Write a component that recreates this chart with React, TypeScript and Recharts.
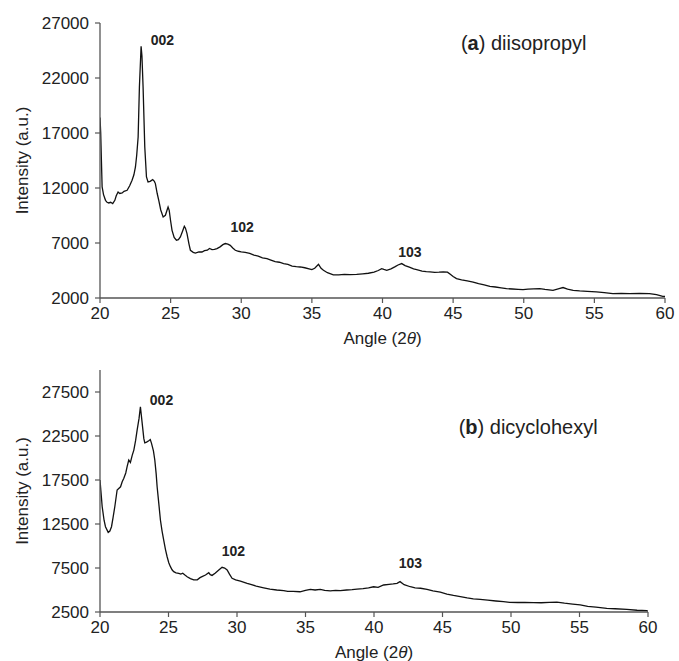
import React from 'react';
import { LineChart, Line, XAxis, YAxis, ReferenceDot } from 'recharts';

const anglesA = [
  20.0, 20.05, 20.1, 20.15, 20.25, 20.39, 20.5, 20.62, 20.75, 20.9, 21.05, 21.15, 21.28, 21.4, 21.57, 21.7, 21.92,
  22.1, 22.27, 22.4, 22.51, 22.6, 22.7, 22.79, 22.91, 22.97, 23.05, 23.17, 23.29, 23.4, 23.55, 23.73, 23.85, 23.92,
  24.05, 24.16, 24.3, 24.47, 24.63, 24.75, 24.82, 24.9, 25.0, 25.1, 25.25, 25.41, 25.55, 25.69, 25.85, 25.97, 26.05,
  26.16, 26.3, 26.4, 26.6, 26.75, 27.0, 27.22, 27.4, 27.6, 27.75, 27.93, 28.1, 28.28, 28.5, 28.7, 28.87, 29.05, 29.22,
  29.4, 29.58, 29.8, 30.0, 30.28, 30.6, 30.9, 31.2, 31.5, 31.82, 32.1, 32.4, 32.7, 33.0, 33.3, 33.6, 33.9, 34.17, 34.5,
  34.8, 35.0, 35.2, 35.47, 35.65, 35.82, 36.1, 36.52, 36.9, 37.3, 37.7, 38.17, 38.6, 39.0, 39.4, 39.7, 39.94, 40.1,
  40.3, 40.6, 40.9, 41.1, 41.36, 41.6, 41.9, 42.2, 42.42, 42.8, 43.1, 43.36, 43.7, 44.0, 44.3, 44.6, 44.8, 45.0, 45.24,
  45.6, 46.0, 46.42, 46.8, 47.2, 47.6, 48.0, 48.4, 48.78, 49.2, 49.6, 49.95, 50.3, 50.7, 51.13, 51.5, 52.07, 52.5,
  52.78, 53.1, 53.5, 53.96, 54.5, 55.14, 55.7, 56.31, 56.9, 57.49, 58.2, 58.9, 59.4, 59.84, 60.0,
];
const intensityA = [
  18400, 17000, 14500, 12100, 11400, 10880, 10700, 10640, 10700, 10580, 10880, 11300, 11640, 11500, 11550, 11700, 11790,
  12200, 12700, 13200, 13910, 15000, 16640, 21180, 24880, 24000, 21180, 15730, 13000, 12540, 12600, 12760, 12600, 12400,
  11500, 10880, 10000, 9360, 9520, 10000, 10270, 9970, 9000, 8150, 7500, 7250, 7300, 7550, 8100, 8520, 8350,
  7850, 6900, 6340, 6150, 6090, 6200, 6180, 6300, 6350, 6500, 6400, 6420, 6490, 6650, 6850, 6950, 6900, 6790,
  6550, 6340, 6250, 6200, 6150, 6050, 5900, 5800, 5650, 5580, 5450, 5300, 5250, 5130, 5050, 4900, 4850, 4820, 4750,
  4650, 4580, 4700, 5060, 4700, 4520, 4300, 4100, 4100, 4150, 4120, 4150, 4200, 4250, 4350, 4500, 4670, 4600,
  4520, 4650, 4850, 5000, 5130, 4950, 4800, 4650, 4580, 4450, 4400, 4370, 4330, 4350, 4380, 4350, 4150, 3950, 3760,
  3650, 3550, 3450, 3300, 3200, 3060, 3000, 2920, 2850, 2820, 2790, 2760, 2800, 2830, 2850, 2780, 2700, 2850,
  2950, 2800, 2700, 2640, 2600, 2550, 2480, 2400, 2420, 2400, 2420, 2400, 2300, 2150, 2150,
];

const anglesB = [
  20.0, 20.16, 20.3, 20.4, 20.6, 20.72, 20.84, 20.95, 21.08, 21.25, 21.5, 21.62, 21.74, 21.88, 21.98, 22.1, 22.22,
  22.35, 22.47, 22.6, 22.71, 22.85, 22.95, 23.08, 23.2, 23.27, 23.4, 23.56, 23.67, 23.76, 23.9, 24.0, 24.1, 24.17,
  24.3, 24.41, 24.53, 24.65, 24.78, 24.9, 25.02, 25.14, 25.26, 25.38, 25.55, 25.75, 25.9, 26.04, 26.2, 26.36, 26.6,
  26.84, 27.1, 27.3, 27.45, 27.7, 27.94, 28.05, 28.18, 28.4, 28.65, 28.91, 29.1, 29.28, 29.45, 29.64, 29.9, 30.25,
  30.74, 31.0, 31.4, 31.95, 32.4, 32.9, 33.41, 33.7, 34.1, 34.6, 35.0, 35.35, 35.7, 36.08, 36.4, 36.81, 37.2, 37.54,
  38.0, 38.4, 38.76, 39.2, 39.6, 39.97, 40.3, 40.7, 41.1, 41.4, 41.68, 41.9, 42.2, 42.65, 43.0, 43.4, 43.87, 44.3,
  44.84, 45.32, 45.8, 46.3, 46.8, 47.25, 47.75, 48.3, 48.9, 49.45, 49.9, 50.5, 51.0, 51.64, 52.2, 52.8, 53.35, 53.9,
  54.5, 55.05, 55.6, 56.2, 56.99, 57.6, 58.45, 59.2, 59.9, 60.0,
];
const intensityB = [
  17500, 14460, 12900, 12190, 11550, 11700, 12190, 13200, 14460, 16360, 16730, 17300, 17690, 18300, 19010, 19770, 19500,
  20300, 20900, 22000, 23170, 24500, 25820, 23940, 22200, 21730, 21800, 21960, 22100, 21660, 20800, 19770, 18200, 16730,
  14700, 12950, 11700, 10680, 9600, 8780, 8100, 7650, 7300, 7080, 6950, 6900, 6800, 6900, 6700, 6510, 6300,
  6140, 6150, 6400, 6510, 6700, 6960, 6750, 6660, 6900, 7250, 7580, 7500, 7270, 6800, 6330, 6150, 6000,
  5760, 5650, 5450, 5250, 5100, 5000, 4920, 4850, 4850, 4800, 4950, 5080, 5000, 5080, 4950, 4890, 4950, 4920,
  5000, 5050, 5110, 5150, 5250, 5370, 5300, 5570, 5650, 5700, 5760, 5950, 5600, 5370, 5250, 5200, 5080, 4900,
  4750, 4540, 4380, 4240, 4100, 4000, 3940, 3850, 3750, 3670, 3600, 3580, 3600, 3560, 3550, 3600, 3620, 3500,
  3400, 3300, 3150, 3050, 2920, 2870, 2800, 2700, 2650, 2600,
];

const xTicks = [20, 25, 30, 35, 40, 45, 50, 55, 60];
const yTicksA = [2000, 7000, 12000, 17000, 22000, 27000];
const yTicksB = [2500, 7500, 12500, 17500, 22500, 27500];

const peakLabelsA = [
  { text: '002', x: 24.42, y: 25420 },
  { text: '102', x: 30.07, y: 8430 },
  { text: '103', x: 41.94, y: 6150 },
];
const peakLabelsB = [
  { text: '002', x: 24.49, y: 26580 },
  { text: '102', x: 29.74, y: 9430 },
  { text: '103', x: 42.65, y: 8070 },
];
const titleA = { letter: 'a', name: 'diisopropyl', x: 50.0, y: 25150 };
const titleB = { letter: 'b', name: 'dicyclohexyl', x: 51.25, y: 23520 };

const dataA = anglesA.map((a, i) => ({ angle: a, intensity: intensityA[i] }));
const dataB = anglesB.map((a, i) => ({ angle: a, intensity: intensityB[i] }));

const FONT = '"Liberation Sans", Arial, sans-serif';
const TEXT = '#222';
const AXIS = '#555';

const XTitle = (props: any) => {
  const vb = props.viewBox || {};
  return (
    <text x={vb.x + vb.width / 2} y={vb.y + 46} textAnchor="middle" fontFamily={FONT} fontSize={17} fill={TEXT}>
      Angle (2<tspan fontStyle="italic">θ</tspan>)
    </text>
  );
};

const YTitle = (props: any) => {
  const vb = props.viewBox || {};
  const cy = vb.y + vb.height / 2;
  return (
    <text x={22} y={cy} transform={`rotate(-90, 22, ${cy})`} textAnchor="middle" dominantBaseline="central"
      fontFamily={FONT} fontSize={17} fill={TEXT}>
      Intensity (a.u.)
    </text>
  );
};

const peakShape = (text: string) => (p: any) => (
  <text x={p.cx} y={p.cy} textAnchor="middle" dominantBaseline="central" fontFamily={FONT} fontSize={14}
    fontWeight="bold" fill={TEXT}>
    {text}
  </text>
);

const titleShape = (letter: string, name: string) => (p: any) => (
  <text x={p.cx} y={p.cy} textAnchor="middle" dominantBaseline="central" fontFamily={FONT} fontSize={20} fill={TEXT}>
    (<tspan fontWeight="bold">{letter}</tspan>) {name}
  </text>
);

const tickStyle = { fontFamily: FONT, fontSize: 17, fill: TEXT };

function Panel(props: {
  data: any[]; height: number; margin: any; yDomain: number[]; yTicks: number[]; xHeight: number;
  peaks: { text: string; x: number; y: number }[]; title: { letter: string; name: string; x: number; y: number };
}) {
  const { data, height, margin, yDomain, yTicks, xHeight, peaks, title } = props;
  return (
    <LineChart width={679} height={height} data={data} margin={margin}>
      <XAxis dataKey="angle" type="number" domain={[20, 60]} ticks={xTicks} allowDataOverflow
        height={xHeight} tickSize={5} tickMargin={4} tick={tickStyle}
        axisLine={{ stroke: AXIS, strokeWidth: 1.3 }} tickLine={{ stroke: AXIS, strokeWidth: 1.2 }}
        label={(lp: any) => <XTitle {...lp} />} />
      <YAxis type="number" domain={yDomain} ticks={yTicks} allowDataOverflow width={100}
        tickSize={5} tickMargin={6} tick={tickStyle}
        axisLine={{ stroke: AXIS, strokeWidth: 1.3 }} tickLine={{ stroke: AXIS, strokeWidth: 1.2 }}
        label={(lp: any) => <YTitle {...lp} />} />
      <Line type="linear" dataKey="intensity" stroke="#111" strokeWidth={1.3} dot={false}
        isAnimationActive={false} />
      {peaks.map((pk) => (
        <ReferenceDot key={pk.text} x={pk.x} y={pk.y} r={0} shape={peakShape(pk.text)} ifOverflow="visible" />
      ))}
      <ReferenceDot x={title.x} y={title.y} r={0} shape={titleShape(title.letter, title.name)} ifOverflow="visible" />
    </LineChart>
  );
}

export default function App() {
  return (
    <div style={{ position: 'absolute', left: 0, top: 0, width: 679, height: 661, background: '#fff' }}>
      <Panel data={dataA} height={350} margin={{ top: 23, right: 14, bottom: 0, left: 0 }}
        yDomain={[2000, 27000]} yTicks={yTicksA} xHeight={52} peaks={peakLabelsA} title={titleA} />
      <Panel data={dataB} height={311} margin={{ top: 20, right: 31, bottom: 0, left: 0 }}
        yDomain={[2500, 30000]} yTicks={yTicksB} xHeight={49} peaks={peakLabelsB} title={titleB} />
    </div>
  );
}
